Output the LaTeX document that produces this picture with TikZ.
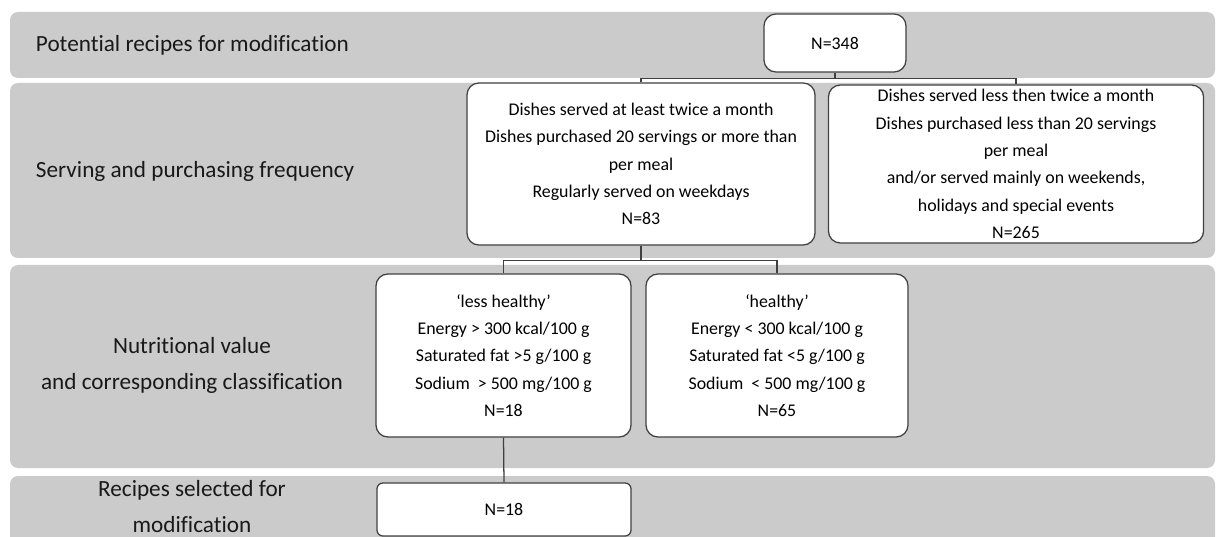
\documentclass[tikz,border=0pt]{standalone}
\usepackage{fontspec}
\setmainfont{Carlito}[Ligatures=NoCommon]
\usepackage{tikz}
\usetikzlibrary{calc,positioning}
\definecolor{bandgray}{RGB}{203,203,203}
\definecolor{edgegray}{RGB}{64,64,64}
\tikzset{
  band/.style={fill=bandgray,draw=none,rounded corners=0.2cm},
  bandlabel/.style={font=\fontsize{16.5}{25.6}\selectfont,align=center,text=black!90},
  stagebox/.style={draw=edgegray,line width=0.9pt,fill=white,rounded corners=0.3cm,align=center,font=\fontsize{12.7}{19.4}\selectfont,inner sep=0pt},
  link/.style={draw=edgegray,line width=0.9pt}
}
\begin{document}
\begin{tikzpicture}[x=0.025cm,y=-0.025cm]
\useasboundingbox (0,0) rectangle (1216,537);
% bands
\fill[band] (10,12) rectangle (1215,78);
\fill[band] (10,83) rectangle (1215,258);
\fill[band] (10,265) rectangle (1215,468);
\fill[band] (10,476) rectangle (1215,570);
\node[bandlabel,anchor=west] (lpot) at (31,45) {Potential recipes for modification};
\node[bandlabel,anchor=west] (lserv) at (31,171) {Serving and purchasing frequency};
\node[bandlabel] (lnut) at (192,365) {Nutritional value\\and corresponding classification};
\node[bandlabel] (lsel) at (192,506.5) {Recipes selected for\\modification};
% boxes
\node[stagebox,minimum width=3.55cm,minimum height=1.45cm] (all) at (835,43) {N=348};
\node[stagebox,minimum width=8.7cm,minimum height=4.05cm] (often) at (641,164)
  {Dishes served at least twice a month\\Dishes purchased 20 servings or more than\\per meal\\Regularly served on weekdays\\N=83};
\node[stagebox,minimum width=9.375cm,minimum height=3.95cm] (seldom) at (1016,164)
  {Dishes served less then twice a month\\Dishes purchased less than 20 servings\\per meal\\and/or served mainly on weekends,\\holidays and special events\\N=265};
\node[stagebox,minimum width=6.375cm,minimum height=4.075cm] (lesshealthy) at (503.5,355.5)
  {‘less healthy’\\Energy > 300 kcal/100 g\\Saturated fat >5 g/100 g\\Sodium \ > 500 mg/100 g\\N=18};
\node[stagebox,minimum width=6.55cm,minimum height=4.075cm] (healthy) at (777,355.5)
  {‘healthy’\\Energy < 300 kcal/100 g\\Saturated fat <5 g/100 g\\Sodium \ < 500 mg/100 g\\N=65};
\node[stagebox,minimum width=6.35cm,minimum height=1.325cm,rounded corners=0.15cm] (selected) at (504,509.5) {N=18};
% connectors
\draw[link] (all.south) -- ++(0,6) coordinate (j1);
\draw[link] (often.north) |- (j1) -| (seldom.north);
\draw[link] (often.south) -- ++(0,15) coordinate (j2);
\draw[link] (lesshealthy.north) |- (j2) -| (healthy.north);
\draw[link] (lesshealthy.south) -- (selected.north);
\end{tikzpicture}
\end{document}
